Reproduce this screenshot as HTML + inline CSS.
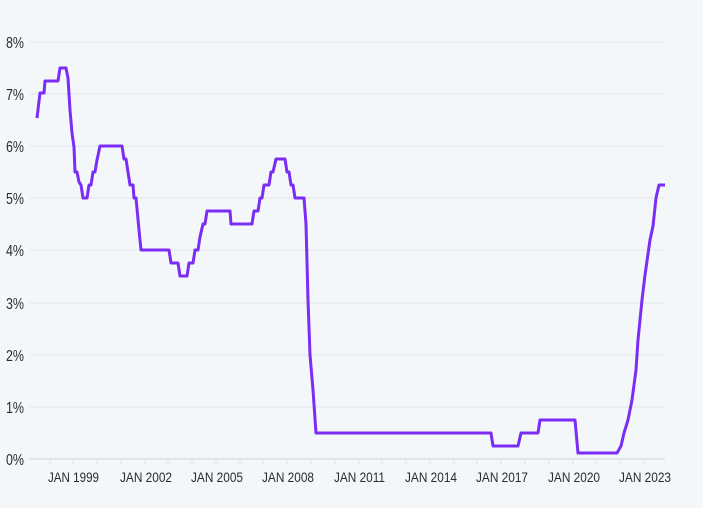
<!DOCTYPE html>
<html><head><style>
html,body{margin:0;padding:0;background:#f4f7fa;}
svg{display:block;}
text{font-family:"Liberation Sans",sans-serif;fill:#2a2a35;}
</style></head><body>
<svg width="703" height="508" viewBox="0 0 703 508" xmlns="http://www.w3.org/2000/svg">
<rect width="703" height="508" fill="#f4f7fa"/>
<g stroke="#e6e8ec" stroke-width="1.2">
<line x1="29" x2="665" y1="42" y2="42"/>
<line x1="29" x2="665" y1="94" y2="94"/>
<line x1="29" x2="665" y1="146" y2="146"/>
<line x1="29" x2="665" y1="198" y2="198"/>
<line x1="29" x2="665" y1="250" y2="250"/>
<line x1="29" x2="665" y1="303" y2="303"/>
<line x1="29" x2="665" y1="355" y2="355"/>
<line x1="29" x2="665" y1="407" y2="407"/>
</g>
<line x1="29" x2="665" y1="459" y2="459" stroke="#e4e4e6" stroke-width="2"/>
<g font-size="16" lengthAdjust="spacingAndGlyphs">
<text x="6" y="48" textLength="18" lengthAdjust="spacingAndGlyphs">8%</text>
<text x="6" y="100" textLength="18" lengthAdjust="spacingAndGlyphs">7%</text>
<text x="6" y="152" textLength="18" lengthAdjust="spacingAndGlyphs">6%</text>
<text x="6" y="204" textLength="18" lengthAdjust="spacingAndGlyphs">5%</text>
<text x="6" y="256" textLength="18" lengthAdjust="spacingAndGlyphs">4%</text>
<text x="6" y="309" textLength="18" lengthAdjust="spacingAndGlyphs">3%</text>
<text x="6" y="361" textLength="18" lengthAdjust="spacingAndGlyphs">2%</text>
<text x="6" y="413" textLength="18" lengthAdjust="spacingAndGlyphs">1%</text>
<text x="6" y="465" textLength="18" lengthAdjust="spacingAndGlyphs">0%</text>
</g>
<g font-size="14">
<text x="48" y="482" textLength="51" lengthAdjust="spacingAndGlyphs">JAN 1999</text>
<text x="120" y="482" textLength="52" lengthAdjust="spacingAndGlyphs">JAN 2002</text>
<text x="191" y="482" textLength="52" lengthAdjust="spacingAndGlyphs">JAN 2005</text>
<text x="262" y="482" textLength="52" lengthAdjust="spacingAndGlyphs">JAN 2008</text>
<text x="334" y="482" textLength="51" lengthAdjust="spacingAndGlyphs">JAN 2011</text>
<text x="405" y="482" textLength="52" lengthAdjust="spacingAndGlyphs">JAN 2014</text>
<text x="476" y="482" textLength="52" lengthAdjust="spacingAndGlyphs">JAN 2017</text>
<text x="548" y="482" textLength="52" lengthAdjust="spacingAndGlyphs">JAN 2020</text>
<text x="619" y="482" textLength="52" lengthAdjust="spacingAndGlyphs">JAN 2023</text>
</g>
<g stroke="#e4e4e6" stroke-width="1.2">
<line x1="50" x2="50" y1="459" y2="465"/><line x1="73" x2="73" y1="459" y2="465"/><line x1="97" x2="97" y1="459" y2="465"/>
<line x1="121" x2="121" y1="459" y2="465"/><line x1="145" x2="145" y1="459" y2="465"/><line x1="168" x2="168" y1="459" y2="465"/>
<line x1="192" x2="192" y1="459" y2="465"/><line x1="216" x2="216" y1="459" y2="465"/><line x1="240" x2="240" y1="459" y2="465"/>
<line x1="263" x2="263" y1="459" y2="465"/><line x1="287" x2="287" y1="459" y2="465"/><line x1="311" x2="311" y1="459" y2="465"/>
<line x1="335" x2="335" y1="459" y2="465"/><line x1="359" x2="359" y1="459" y2="465"/><line x1="382" x2="382" y1="459" y2="465"/>
<line x1="406" x2="406" y1="459" y2="465"/><line x1="430" x2="430" y1="459" y2="465"/><line x1="454" x2="454" y1="459" y2="465"/>
<line x1="477" x2="477" y1="459" y2="465"/><line x1="501" x2="501" y1="459" y2="465"/><line x1="525" x2="525" y1="459" y2="465"/>
<line x1="549" x2="549" y1="459" y2="465"/><line x1="573" x2="573" y1="459" y2="465"/><line x1="596" x2="596" y1="459" y2="465"/>
<line x1="620" x2="620" y1="459" y2="465"/><line x1="644" x2="644" y1="459" y2="465"/>
</g>
<polyline fill="none" stroke="#7b2cf5" stroke-width="3" stroke-linejoin="round" points="37,118 40,93 44,93 45,81 58,81 60,68 66,68 68,78 70,110 72,133 74,147 75,172 77,172 79,182 81,185 83,198 87,198 89,185 91,185 93,172 95,172 97,160 100,146 122,146 124,159 126,159 130,185 133,185 134,198 136,198 139,230 141,250 169,250 171,263 178,263 180,276 187,276 189,263 193,263 195,250 198,250 200,237 203,224 205,224 207,211 230,211 231,224 252,224 254,211 258,211 260,198 262,198 264,185 269,185 271,172 273,172 276,159 285,159 287,172 289,172 291,185 293,185 295,198 304,198 306,224 308,300 310,355 313,390 316,433 491,433 493,446 518,446 521,433 538,433 540,420 575,420 578,453 617,453 621,446 624,433 628,420 632,400 636,370 638,340 642,300 645,275 650,240 653,226 656,198 659,185 665,185"/>
</svg>
</body></html>
